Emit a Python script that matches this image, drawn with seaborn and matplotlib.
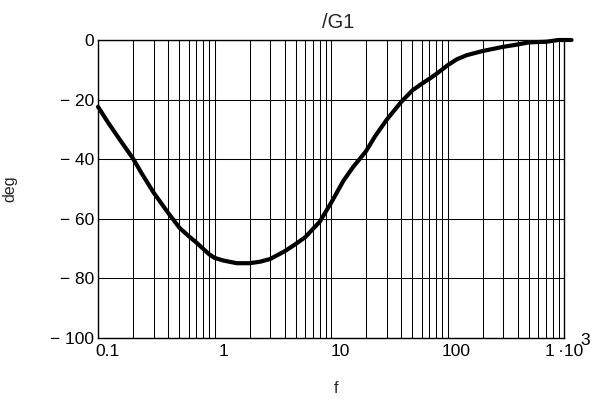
import matplotlib
matplotlib.use("Agg")
import matplotlib.pyplot as plt
import matplotlib.transforms as mtransforms
from matplotlib.ticker import LogLocator, NullFormatter, FixedLocator
import seaborn as sns
import pandas as pd

# ---- data ----
freq = [0.1, 0.122, 0.153, 0.2, 0.235, 0.3, 0.4, 0.5, 0.6, 0.7, 0.9, 1.0,
        1.19, 1.55, 2.0, 2.46, 3, 4, 5, 6, 7, 8, 10, 12.8, 15.5, 20, 23.9,
        30, 40, 50, 60, 70, 80, 90, 100, 120, 146, 200, 300, 400, 500, 700,
        900, 1160]
phase = [-22.4, -27.7, -33.3, -39.8, -44.5, -51.2, -58.0, -63.0, -65.8,
         -68.0, -71.9, -73.1, -74.0, -74.9, -74.9, -74.4, -73.5, -70.9,
         -68.4, -66.2, -63.4, -61.0, -54.7, -47.2, -42.6, -37.3, -32.3,
         -26.8, -20.8, -16.9, -14.7, -13.0, -11.4, -9.9, -8.5, -6.5, -5.1,
         -3.7, -2.3, -1.5, -0.8, -0.6, 0.0, 0.0]
x_ticks = [0.1, 1, 10, 100, 1000]
x_tick_labels = ["0.1", "1", "10", "100", "1\u2009\u00b710"]
x_last_exponent = "3"
y_ticks = [0, -20, -40, -60, -80, -100]
y_tick_labels = ["0", "\u2212 20", "\u2212 40", "\u2212 60", "\u2212 80", "\u2212 100"]
title = "/G1"
x_label = "f"
y_label = "deg"

df = pd.DataFrame({"f": freq, "deg": phase})

sns.set_style("white")
plt.rcParams["font.family"] = ["Liberation Sans", "DejaVu Sans"]

W, H = 601, 405
fig = plt.figure(figsize=(W / 100, H / 100), dpi=100)
ax = fig.add_axes([98 / W, 1 - 338 / H, (564 - 98) / W, (338 - 40) / H])

sns.lineplot(data=df, x="f", y="deg", ax=ax, color="black", linewidth=3.0,
             clip_on=False, zorder=5)

ax.set_xscale("log")
ax.set_xlim(0.1, 1000)
ax.set_ylim(-100, 0)

ax.xaxis.set_major_locator(FixedLocator(x_ticks))
ax.set_xticklabels(x_tick_labels)
ax.xaxis.set_minor_locator(LogLocator(base=10, subs=range(2, 10), numticks=20))
ax.xaxis.set_minor_formatter(NullFormatter())
ax.set_yticks(y_ticks)
ax.set_yticklabels(y_tick_labels)

ax.grid(True, which="major", axis="both", color="black", linewidth=0.75)
ax.grid(True, which="minor", axis="x", color="black", linewidth=0.75)
ax.set_axisbelow(True)

LABEL_FS = 12.5
ax.tick_params(axis="both", which="both", length=0, labelsize=LABEL_FS,
               colors="black")
ax.tick_params(axis="x", pad=4)
ax.tick_params(axis="y", pad=3)

for sp in ax.spines.values():
    sp.set_color("black")
    sp.set_linewidth(1.0)

# x tick labels sit slightly right of their grid line
shift = mtransforms.ScaledTranslation(0.09, 0, fig.dpi_scale_trans)
for lab in ax.get_xticklabels()[:-1]:
    lab.set_transform(lab.get_transform() + shift)

# exponent of the last tick label, drawn large and raised as in the reference
ax.annotate(x_last_exponent, xy=(1, 0), xycoords="axes fraction",
            xytext=(12.0, -1.5), textcoords="offset points",
            ha="left", va="center", fontsize=LABEL_FS, color="black")

ax.set_title(title, fontsize=14.5, pad=9, x=0.515)
ax.set_xlabel(x_label, fontsize=11.5)
ax.xaxis.set_label_coords(0.51, -0.145)
ax.set_ylabel(y_label, fontsize=11.5)
ax.yaxis.set_label_coords(-0.172, 0.5)

fig.savefig("out.png", dpi=100, facecolor="white")
